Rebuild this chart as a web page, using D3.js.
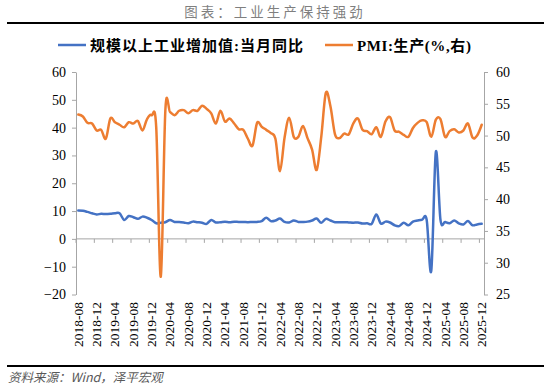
<!DOCTYPE html>
<html>
<head>
<meta charset="utf-8">
<script src="https://cdn.jsdelivr.net/npm/d3@7"></script>
<style>
  body { margin: 0; background: #fff; }
  svg { display: block; }
</style>
</head>
<body>
<div id="chart"></div>
<script>
// categories: monthly, 2018-08 .. 2025-12
var startYear = 2018, startMonth = 8, monthCount = 89;
var months = [];
for (var k = 0; k < monthCount; k++) {
  var m = startMonth - 1 + k;
  months.push((startYear + Math.floor(m / 12)) + '-' + String(m % 12 + 1).padStart(2, '0'));
}

// 规模以上工业增加值:当月同比 (left axis)
var ivaValues = [
  10.2, 10.1, 9.7, 9.2, 8.8, 9.0, 8.9, 9.0, 9.2, 9.2, 6.8, 8.2,
  7.8, 7.2, 8.0, 7.6, 6.8, 5.6, 5.8, 6.0, 6.8, 6.1, 6.1, 5.9,
  5.6, 6.2, 6.0, 5.8, 5.4, 6.8, 5.9, 6.0, 6.2, 6.0, 6.2, 6.1,
  6.1, 6.0, 6.1, 6.1, 6.4, 7.6, 6.4, 6.6, 7.3, 6.1, 5.9, 6.6,
  6.1, 6.1, 6.2, 6.6, 7.3, 5.8, 7.2, 6.6, 6.0, 6.0, 6.0, 5.9,
  5.8, 5.9, 5.5, 5.6, 5.4, 8.8, 5.5, 6.2, 5.9, 4.9, 4.6, 5.8,
  4.9, 6.2, 6.6, 6.9, 6.8, -11.4, 31.3, 6.9, 6.1, 5.6, 6.6, 5.6,
  5.2, 6.4, 4.9, 5.2, 5.4
];

// PMI:生产 (right axis)
var pmiValues = [
  53.3, 53.0, 52.0, 51.9, 50.8,
  50.9, 49.5, 52.7, 52.1, 51.7, 51.3, 52.1, 51.9, 52.3, 50.8, 52.6, 53.2,
  51.3, 27.8, 54.1, 53.7, 53.2, 53.9, 54.0, 53.5, 54.0, 53.9, 54.7, 54.2,
  53.5, 51.9, 53.9, 52.2, 52.7, 51.9, 51.0, 50.9, 49.5, 48.4, 52.0, 51.4,
  50.9, 50.4, 49.5, 44.4, 49.7, 52.8, 49.8, 49.8, 51.5, 49.6, 47.8, 44.6,
  49.8, 56.7, 54.6, 50.2, 49.6, 50.3, 50.2, 51.9, 52.7, 50.9, 50.7, 50.2,
  51.3, 49.8, 52.2, 52.9, 50.8, 50.6, 50.1, 49.8, 51.2, 52.0, 52.4, 52.1,
  49.8, 52.5, 52.6, 49.8, 50.7, 51.0, 50.5, 50.8, 51.9, 49.7, 50.0, 51.7
];

var leftTicks = [-20, -10, 0, 10, 20, 30, 40, 50, 60];
var rightTicks = [25, 30, 35, 40, 45, 50, 55, 60];
var xTickLabels = months.filter(function(d, i) { return i % 4 === 0; });

var seriesNames = ['规模以上工业增加值:当月同比', 'PMI:生产(%,右)'];
var colors = ['#4472C4', '#ED7D31'];

var W = 550, H = 388;
var plot = {left: 76, right: 484, top: 72, bottom: 294.5};
var axisColor = '#A6A6A6';
var numFont = '"Liberation Serif", "Times New Roman", serif';

var svg = d3.select('#chart').append('svg')
  .attr('width', W)
  .attr('height', H);

// title + rules
svg.append('text')
  .attr('x', 275).attr('y', 17)
  .attr('text-anchor', 'middle')
  .attr('font-family', '"Noto Sans CJK SC", sans-serif')
  .attr('font-size', 13.5)
  .attr('letter-spacing', 3)
  .attr('fill', '#7F7F7F')
  .text('图表：工业生产保持强劲');

svg.append('line')
  .attr('x1', 7).attr('x2', 544).attr('y1', 23).attr('y2', 23)
  .attr('stroke', '#000').attr('stroke-width', 2);

svg.append('line')
  .attr('x1', 7).attr('x2', 544).attr('y1', 366).attr('y2', 366)
  .attr('stroke', '#000').attr('stroke-width', 2);

svg.append('text')
  .attr('x', 8).attr('y', 382)
  .attr('font-family', '"Noto Sans CJK SC", sans-serif')
  .attr('font-size', 12.5)
  .attr('font-style', 'italic')
  .attr('fill', '#595959')
  .text('资料来源：Wind，泽平宏观');

// scales
var x = d3.scaleBand().domain(months).range([plot.left, plot.right]).padding(0);
var yL = d3.scaleLinear().domain([-20, 60]).range([plot.bottom, plot.top]);
var yR = d3.scaleLinear().domain([25, 60]).range([plot.bottom, plot.top]);
var cx = function(d) { return x(d) + x.bandwidth() / 2; };

// left axis
var gL = svg.append('g')
  .attr('transform', 'translate(' + plot.left + ',0)')
  .call(d3.axisLeft(yL).tickValues(leftTicks).tickSize(4).tickPadding(6).tickSizeOuter(0));

// right axis
var gR = svg.append('g')
  .attr('transform', 'translate(' + plot.right + ',0)')
  .call(d3.axisRight(yR).tickValues(rightTicks).tickSize(4).tickPadding(8).tickSizeOuter(0));

[gL, gR].forEach(function(g) {
  g.select('.domain').attr('stroke', axisColor);
  g.selectAll('.tick line').attr('stroke', axisColor);
  g.selectAll('.tick text')
    .attr('font-family', numFont)
    .attr('font-size', 14)
    .attr('fill', '#000');
});

// x axis at zero, ticks on category boundaries every 4 months
var boundaryTicks = months.filter(function(d, i) { return i % 4 === 0; });
var gX = svg.append('g')
  .attr('transform', 'translate(0,' + yL(0) + ')');
gX.append('line')
  .attr('x1', plot.left).attr('x2', plot.right)
  .attr('stroke', axisColor);
gX.selectAll('.xt').data(boundaryTicks).enter().append('line')
  .attr('class', 'xt')
  .attr('x1', function(d) { return x(d); })
  .attr('x2', function(d) { return x(d); })
  .attr('y1', 0).attr('y2', 4)
  .attr('stroke', axisColor);

// x labels, rotated, under the plot
svg.selectAll('.xl').data(xTickLabels).enter().append('text')
  .attr('class', 'xl')
  .attr('transform', function(d) {
    return 'translate(' + (cx(d) + 4.5) + ',' + 302 + ') rotate(-90)';
  })
  .attr('text-anchor', 'end')
  .attr('font-family', numFont)
  .attr('font-size', 13.5)
  .attr('fill', '#000')
  .text(function(d) { return d; });

// lines
var lineL = d3.line()
  .x(function(d, i) { return cx(months[i]); })
  .y(function(d) { return yL(d); })
  .curve(d3.curveCardinal.tension(0));

var lineR = d3.line()
  .x(function(d, i) { return cx(months[i]); })
  .y(function(d) { return yR(d); })
  .curve(d3.curveCardinal.tension(0));

svg.append('path').datum(ivaValues)
  .attr('fill', 'none')
  .attr('stroke', colors[0])
  .attr('stroke-width', 2.5)
  .attr('stroke-linejoin', 'round')
  .attr('stroke-linecap', 'round')
  .attr('d', lineL);

svg.append('path').datum(pmiValues)
  .attr('fill', 'none')
  .attr('stroke', colors[1])
  .attr('stroke-width', 2.5)
  .attr('stroke-linejoin', 'round')
  .attr('stroke-linecap', 'round')
  .attr('d', lineR);

// legend
var legendItems = [
  {name: seriesNames[0], color: colors[0], x: 58, spacing: 1},
  {name: seriesNames[1], color: colors[1], x: 325, spacing: 0.6}
];
var lg = svg.selectAll('.lg').data(legendItems).enter().append('g')
  .attr('class', 'lg')
  .attr('transform', function(d) { return 'translate(' + d.x + ',45)'; });
lg.append('line')
  .attr('x1', 0).attr('x2', 28)
  .attr('stroke', function(d) { return d.color; })
  .attr('stroke-width', 2.5);
lg.append('text')
  .attr('x', 32).attr('y', 5.5)
  .attr('font-family', '"Liberation Serif", "Noto Sans CJK SC", serif')
  .attr('font-size', 15)
  .attr('font-weight', 'bold')
  .attr('letter-spacing', function(d) { return d.spacing; })
  .attr('fill', '#000')
  .text(function(d) { return d.name; });
</script>
</body>
</html>
